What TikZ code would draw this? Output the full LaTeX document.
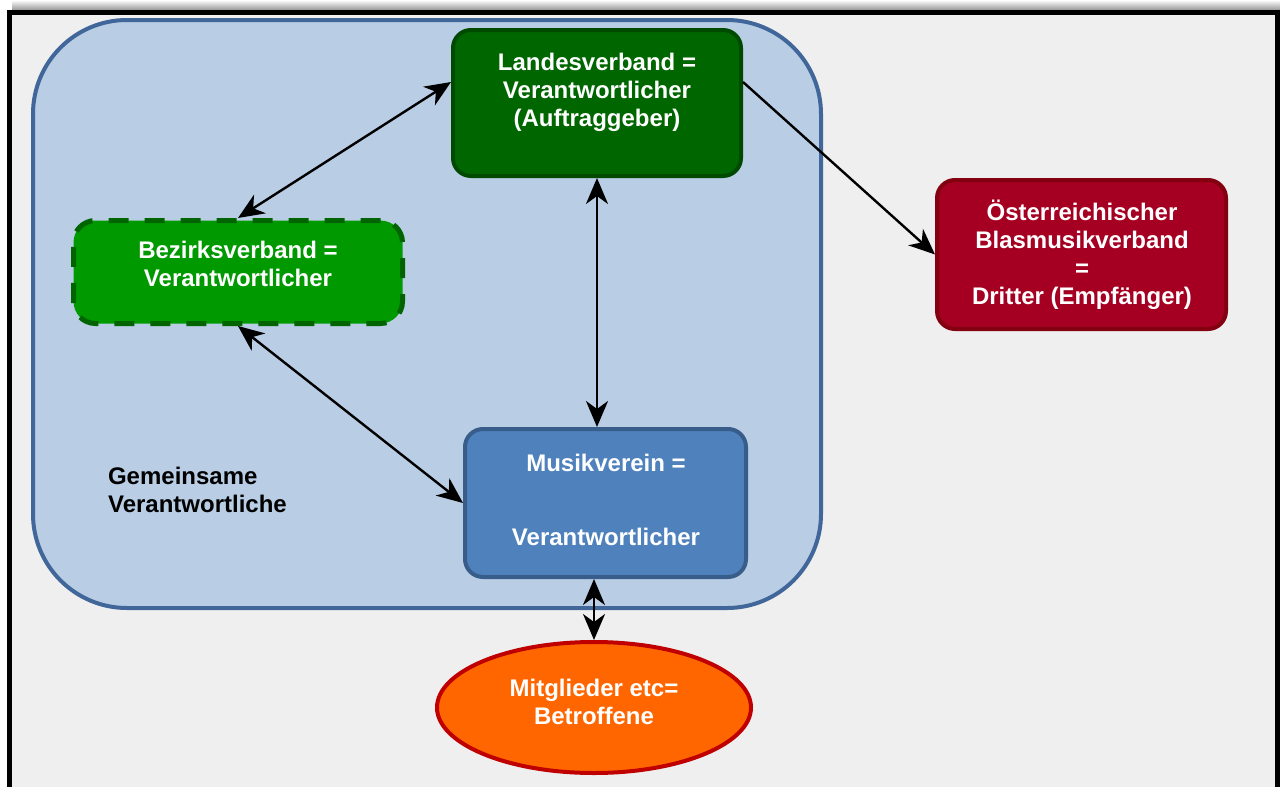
\documentclass[tikz,border=0pt]{standalone}
\usepackage{fontspec}
\setmainfont{Liberation Sans}
\usepackage{tikz}
\usetikzlibrary{arrows.meta,shapes}

\definecolor{framefill}{HTML}{EFEFEF}
\definecolor{grpfill}{HTML}{B9CDE5}
\definecolor{grpline}{HTML}{41679A}
\definecolor{landfill}{HTML}{006600}
\definecolor{landline}{HTML}{004A00}
\definecolor{bezfill}{HTML}{009900}
\definecolor{bezline}{HTML}{006400}
\definecolor{musfill}{HTML}{4F81BD}
\definecolor{musline}{HTML}{385D8A}
\definecolor{oebfill}{HTML}{A50021}
\definecolor{oebline}{HTML}{820010}
\definecolor{mitfill}{HTML}{FF6600}
\definecolor{mitline}{HTML}{C00000}

\begin{document}
\begin{tikzpicture}[x=0.5pt,y=-0.5pt,
  every node/.style={font=\bfseries\fontsize{12}{14}\selectfont, align=center},
  box/.style={rectangle, rounded corners=9pt, line width=2pt, inner sep=0pt},
  txt/.style={text=white},
  >={Stealth[length=13pt,width=11pt,inset=4pt]},
  link/.style={line width=1.2pt, <->}]
\useasboundingbox (0,0) rectangle (1280,787);

\shade[top color=white, bottom color=black!45] (12,0) rectangle (1280,11);
\draw[line width=2.5pt, fill=framefill] (9.5,12) rectangle (1277,805);

\draw[line width=2pt, draw=grpline, fill=grpfill, rounded corners=47pt] (33,20) rectangle (821,608);

\node[box, draw=landline, fill=landfill, minimum width=144pt, minimum height=73pt] (landes) at (597,103) {};
\node[box, draw=bezline, fill=bezfill, line width=2.5pt, dash pattern=on 10pt off 8pt, rounded corners=11pt,
  minimum width=164.5pt, minimum height=51.5pt] (bezirk) at (238,272) {};
\node[box, draw=musline, fill=musfill, minimum width=140.5pt, minimum height=74pt] (musik) at (605.5,503) {};
\node[box, draw=oebline, fill=oebfill, minimum width=144.5pt, minimum height=74.5pt] (oeb) at (1081.5,254.5) {};
\node[ellipse, line width=2pt, draw=mitline, fill=mitfill, inner sep=0pt,
  minimum width=157pt, minimum height=65.5pt] (mitglieder) at (594,707.5) {};

\node[txt] (landes-txt) at (597,92) {Landesverband =\\Verantwortlicher\\(Auftraggeber)};
\node[txt] (bezirk-txt) at (238,264) {Bezirksverband =\\Verantwortlicher};
\node[txt] (musik-txt) at (606,500) {Musikverein =\\[23pt]Verantwortlicher};
\node[txt] (oeb-txt) at (1082,255) {Österreichischer\\Blasmusikverband\\=\\Dritter (Empfänger)};
\node[txt] (mitglieder-txt) at (594,702) {Mitglieder etc=\\Betroffene};
\node[align=left, anchor=west] (gemeinsam) at (101,490) {Gemeinsame\\Verantwortliche};

\draw[link] ([yshift=10.5pt]landes.west) -- (bezirk.north);
\draw[link] (landes.south) -- (landes.south |- musik.north);
\draw[link] (bezirk.south) -- (musik.west);
\draw[line width=1.2pt, ->] ([yshift=10.5pt]landes.east) -- (oeb.west);
\draw[link] (mitglieder.north |- musik.south) -- (mitglieder.north);
\end{tikzpicture}
\end{document}
